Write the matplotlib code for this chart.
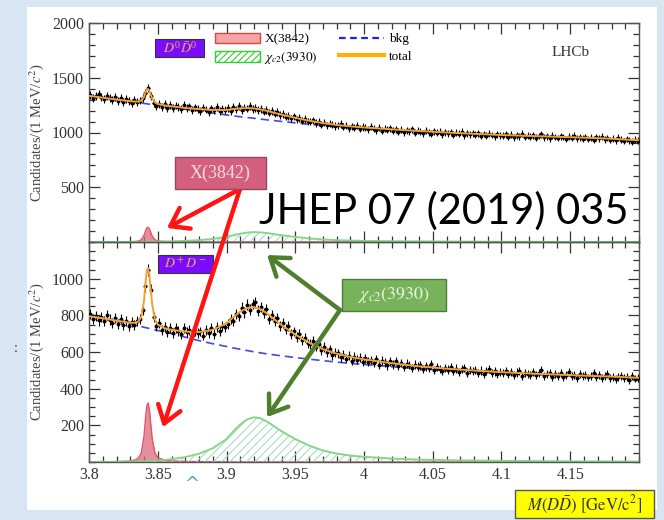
import numpy as np
import matplotlib
matplotlib.use("Agg")
import matplotlib.pyplot as plt
from matplotlib.patches import Rectangle, Patch, ConnectionPatch
from matplotlib.lines import Line2D
from matplotlib.ticker import MultipleLocator

plt.rcParams["font.family"] = ["Liberation Serif", "DejaVu Serif"]
plt.rcParams["mathtext.fontset"] = "stix"
plt.rcParams["hatch.linewidth"] = 0.8

# ---- data (2 MeV bins, candidates per 1 MeV) ----
bin_start = 3.801
bin_step = 0.002

d0d0_counts = [
    1342, 1318, 1331, 1350, 1322, 1309, 1336, 1317, 1296, 1325,
    1288, 1311, 1279, 1302, 1290, 1266, 1297, 1275, 1292, 1318,
    1362, 1405, 1331, 1268, 1240, 1262, 1231, 1258, 1226, 1249,
    1221, 1246, 1230, 1212, 1251, 1225, 1238, 1204, 1229, 1216,
    1198, 1227, 1209, 1186, 1220, 1201, 1232, 1195, 1214, 1206,
    1224, 1196, 1230, 1211, 1240, 1203, 1228, 1219, 1245, 1212,
    1226, 1205, 1214, 1190, 1208, 1181, 1199, 1172, 1186, 1160,
    1168, 1145, 1152, 1128, 1147, 1119, 1133, 1108, 1124, 1102,
    1098, 1112, 1087, 1095, 1070, 1089, 1064, 1081, 1072, 1059,
    1066, 1078, 1052, 1061, 1040, 1057, 1044, 1063, 1036, 1050,
    1043, 1029, 1051, 1036, 1022, 1045, 1018, 1034, 1027, 1040,
    1016, 1031, 1009, 1025, 1003, 1020, 1012, 1028, 998, 1014,
    1007, 995, 1018, 1001, 989, 1010, 996, 1006, 985, 1002,
    993, 1004, 980, 997, 988, 1009, 976, 994, 983, 991,
    981, 995, 972, 986, 969, 990, 977, 964, 983, 975,
    970, 984, 962, 979, 955, 973, 966, 988, 959, 971,
    961, 975, 952, 968, 983, 957, 964, 946, 970, 958,
    950, 967, 958, 941, 962, 953, 972, 947, 956, 944,
    959, 940, 951, 935, 957, 946, 962, 938, 949, 932,
    944, 929, 952, 934, 921, 940, 927, 915, 936, 924,
]

dpdm_counts = [
    806, 781, 798, 772, 790, 769, 801, 777, 759, 784,
    752, 779, 748, 770, 741, 763, 749, 770, 782, 829,
    961, 1046, 938, 792, 741, 759, 722, 738, 711, 731,
    705, 729, 714, 696, 733, 708, 721, 690, 716, 703,
    712, 690, 721, 704, 729, 698, 736, 715, 744, 738,
    752, 781, 770, 808, 795, 842, 816, 858, 831, 862,
    871, 826, 845, 812, 833, 781, 803, 769, 786, 742,
    758, 727, 741, 698, 712, 681, 697, 664, 679, 648,
    643, 661, 628, 645, 609, 627, 598, 614, 581, 597,
    592, 571, 586, 563, 579, 552, 574, 558, 569, 547,
    566, 548, 557, 539, 561, 531, 552, 544, 527, 549,
    533, 551, 524, 540, 518, 536, 529, 512, 531, 520,
    527, 509, 521, 514, 533, 502, 518, 507, 496, 513,
    504, 519, 497, 510, 492, 506, 514, 488, 501, 495,
    503, 487, 499, 481, 496, 508, 485, 494, 478, 492,
    486, 498, 479, 491, 474, 488, 495, 471, 485, 480,
    477, 490, 472, 484, 503, 468, 479, 486, 466, 481,
    470, 483, 462, 476, 489, 467, 474, 458, 479, 469,
    475, 461, 470, 484, 463, 472, 457, 468, 478, 460,
    466, 452, 463, 471, 456, 462, 448, 467, 455, 459,
]

# fit curves sampled at these masses
curve_mass = [3.800, 3.810, 3.820, 3.830, 3.834, 3.836, 3.838, 3.840, 3.841, 3.842,
              3.843, 3.844, 3.845, 3.846, 3.848, 3.850, 3.855, 3.860, 3.870, 3.880,
              3.890, 3.900, 3.905, 3.910, 3.915, 3.920, 3.925, 3.930, 3.935, 3.940,
              3.950, 3.960, 3.970, 3.980, 3.990, 4.000, 4.020, 4.040, 4.060, 4.080,
              4.100, 4.120, 4.140, 4.160, 4.180, 4.200]

d0d0_bkg = [1335, 1318, 1300, 1283, 1276, 1272, 1269, 1265, 1264, 1262,
            1260, 1258, 1256, 1255, 1251, 1248, 1239, 1230, 1213, 1196,
            1178, 1160, 1152, 1144, 1137, 1130, 1122, 1115, 1108, 1101,
            1088, 1075, 1063, 1052, 1043, 1036, 1022, 1009, 996, 985,
            975, 967, 960, 952, 942, 928]
d0d0_x3842 = [0, 0, 1, 2, 5, 9, 20, 60, 97, 128,
              135, 118, 84, 52, 20, 10, 4, 3, 1, 1,
              0, 0, 0, 0, 0, 0, 0, 0, 0, 0,
              0, 0, 0, 0, 0, 0, 0, 0, 0, 0,
              0, 0, 0, 0, 0, 0]
d0d0_chic2 = [0, 0, 0, 1, 1, 1, 1, 1, 2, 2,
              2, 2, 2, 2, 3, 3, 4, 6, 10, 17,
              28, 46, 62, 76, 86, 90, 88, 81, 71, 62,
              46, 33, 23, 17, 13, 10, 7, 5, 4, 3,
              2, 2, 1, 1, 1, 1]

dpdm_bkg = [795, 782, 768, 752, 745, 742, 739, 735, 733, 732,
            730, 728, 727, 725, 721, 718, 709, 700, 681, 662,
            645, 630, 622, 615, 608, 601, 595, 589, 584, 579,
            570, 561, 553, 545, 538, 532, 520, 509, 499, 491,
            484, 478, 473, 468, 463, 457]
dpdm_x3842 = [0, 1, 2, 5, 12, 22, 48, 140, 230, 305,
              322, 280, 200, 125, 48, 24, 10, 6, 3, 2,
              1, 1, 0, 0, 0, 0, 0, 0, 0, 0,
              0, 0, 0, 0, 0, 0, 0, 0, 0, 0,
              0, 0, 0, 0, 0, 0]
dpdm_chic2 = [0, 1, 1, 2, 3, 3, 4, 4, 5, 5,
              5, 5, 6, 6, 7, 8, 11, 15, 27, 45,
              75, 125, 168, 205, 232, 244, 238, 218, 193, 168,
              125, 90, 63, 46, 35, 28, 19, 13, 10, 8,
              6, 5, 4, 3, 3, 2]

xtick_vals = [3.8, 3.85, 3.9, 3.95, 4.0, 4.05, 4.1, 4.15]
xtick_labels = ["3.8", "3.85", "3.9", "3.95", "4", "4.05", "4.1", "4.15"]
d0d0_yticks = [500, 1000, 1500, 2000]
dpdm_yticks = [200, 400, 600, 800, 1000]

# ---- figure ----
W, H = 664, 520
fig = plt.figure(figsize=(W / 100, H / 100), dpi=100)
fig.patch.set_facecolor("#d8e5f3")
fig.add_artist(Rectangle((27 / W, 10 / H), 630 / W, 503 / H, transform=fig.transFigure,
                         facecolor="white", edgecolor="none", zorder=-5))


def fx(px):
    return px / W


def fy(py):
    return (H - py) / H


ax1 = fig.add_axes([fx(89), fy(242), 550 / W, 219 / H])
ax2 = fig.add_axes([fx(89), fy(462), 550 / W, 220 / H])

mass = bin_start + bin_step * np.arange(len(d0d0_counts))
cm = np.array(curve_mass)

panels = [
    (ax1, d0d0_counts, d0d0_bkg, d0d0_x3842, d0d0_chic2, (0, 2000), d0d0_yticks, 100),
    (ax2, dpdm_counts, dpdm_bkg, dpdm_x3842, dpdm_chic2, (0, 1200), dpdm_yticks, 50),
]

for ax, counts, bkg, xsig, chisig, ylim, yticks, ymin in panels:
    counts = np.array(counts)
    bkg = np.array(bkg)
    xsig = np.array(xsig)
    chisig = np.array(chisig)
    total = bkg + xsig + chisig

    ax.set_facecolor("none")
    ax.fill_between(cm, xsig, color="#dc6a7c", alpha=0.75, lw=0, zorder=2)
    ax.plot(cm, xsig, color="#e25363", lw=1.0, zorder=2)
    ax.fill_between(cm, chisig, facecolor="none", hatch="////", edgecolor="#a9dcc4",
                    lw=0, zorder=2)
    ax.plot(cm, chisig, color="#86d68a", lw=1.4, zorder=2)
    ax.plot(cm, bkg, color="#4646e6", ls=(0, (5, 3)), lw=1.2, zorder=2)
    ax.errorbar(mass, counts, yerr=np.sqrt(counts), xerr=bin_step / 2, fmt="o", ms=1.8,
                color="black", elinewidth=0.8, capsize=0, zorder=3)
    ax.plot(cm, total, color="#f5a032", lw=1.4, zorder=4)

    ax.set_xlim(3.8, 4.2)
    ax.set_ylim(*ylim)
    ax.set_yticks(yticks)
    ax.yaxis.set_minor_locator(MultipleLocator(ymin))
    ax.set_xticks(xtick_vals)
    ax.xaxis.set_minor_locator(MultipleLocator(0.01))
    ax.tick_params(which="both", direction="in", top=True, right=True,
                   labelsize=11.5, colors="#333333", width=0.9)
    ax.tick_params(which="major", length=8)
    ax.tick_params(which="minor", length=4)
    for s in ax.spines.values():
        s.set_color("#555555")
        s.set_linewidth(1.0)
    ax.set_ylabel(r"Candidates/(1 MeV/$c^2$)", fontsize=10.5, color="#444444")
    ax.yaxis.set_label_coords(-0.078, 0.5)

ax1.set_xticklabels([])
ax2.set_xticklabels(xtick_labels)

# channel tags
ax1.add_patch(Rectangle((0.12, 0.845), 0.089, 0.082, transform=ax1.transAxes,
                        facecolor="#7a0cff", edgecolor="#333333", lw=0.8, zorder=5))
ax1.text(0.1645, 0.886, r"$D^0\bar{D}^0$", transform=ax1.transAxes, ha="center",
         va="center", color="#f0b040", fontsize=10, zorder=6)
ax2.add_patch(Rectangle((0.1255, 0.859), 0.1, 0.082, transform=ax2.transAxes,
                        facecolor="#7a0cff", edgecolor="#333333", lw=0.8, zorder=5))
ax2.text(0.1755, 0.9, r"$D^+D^-$", transform=ax2.transAxes, ha="center",
         va="center", color="#f0b040", fontsize=10, zorder=6)

ax1.text(0.875, 0.865, "LHCb", transform=ax1.transAxes, ha="center", va="center",
         fontsize=11, color="#333333")

handles = [
    Patch(facecolor="#f6a5a5", edgecolor="#e04545", label="X(3842)"),
    Patch(facecolor="white", edgecolor="#30d030", hatch="/////", label=r"$\chi_{c2}(3930)$"),
    Line2D([], [], color="#2020ee", ls=(0, (3, 2)), lw=1.6, label="bkg"),
    Line2D([], [], color="#ffb000", lw=3, label="total"),
]
ax1.legend(handles=handles, ncol=2, loc="upper left", bbox_to_anchor=(0.229, 0.955),
           frameon=False, borderpad=0, borderaxespad=0, fontsize=9.5, handlelength=3.4,
           handleheight=0.8, handletextpad=0.35, columnspacing=1.6, labelspacing=0.35)

# annotation boxes
fig.add_artist(Rectangle((fx(175), fy(189)), 91 / W, 32 / H, transform=fig.transFigure,
                         facecolor="#d3607f", edgecolor="#9a4560", lw=1.0, zorder=10))
fig.text(fx(220.5), fy(173), "X(3842)", ha="center", va="center", fontsize=13,
         color="#f6dbe4", zorder=11)
fig.add_artist(Rectangle((fx(342), fy(311)), 104 / W, 32 / H, transform=fig.transFigure,
                         facecolor="#78b35c", edgecolor="#4e7d38", lw=1.0, zorder=10))
fig.text(fx(394), fy(295), r"$\chi_{c2}(3930)$", ha="center", va="center", fontsize=13,
         color="#eaf5e2", zorder=11)

arrows = [
    ((240, 189), ax1, (3.8567, 128), "#ff1414"),
    ((240, 189), ax2, (3.8538, 190), "#ff1414"),
    ((340, 310), ax2, (3.9295, 1129), "#4f7f2c"),
    ((340, 310), ax2, (3.9295, 245), "#4f7f2c"),
]
for (sx, sy), ax, tip, col in arrows:
    con = ConnectionPatch(xyA=(fx(sx), fy(sy)), coordsA="figure fraction",
                          xyB=tip, coordsB=ax.transData,
                          arrowstyle="->,head_length=0.6,head_width=0.42",
                          mutation_scale=20, lw=3.2, color=col,
                          shrinkA=0, shrinkB=0, zorder=9)
    fig.add_artist(con)

fig.text(fx(444), fy(224), "JHEP 07 (2019) 035", ha="center", va="baseline",
         fontsize=30, family="Lato", color="black", zorder=12)

# x-axis label box
fig.add_artist(Rectangle((fx(515), fy(518)), 139 / W, 28 / H, transform=fig.transFigure,
                         facecolor="#ffff00", edgecolor="#555555", lw=1.0, zorder=10))
fig.text(fx(584.5), fy(504), r"$M(D\bar{D})\ [\mathrm{GeV/c^2}]$", ha="center",
         va="center", fontsize=12, color="#333333", zorder=11)

fig.text(fx(192), fy(484), "^", ha="center", va="center", fontsize=13,
         color="#5b9bd5", family="DejaVu Sans")
fig.text(fx(16), fy(349), ":", ha="center", va="center", fontsize=10, color="#333333")

fig.savefig("out.png", dpi=100, facecolor=fig.get_facecolor())
